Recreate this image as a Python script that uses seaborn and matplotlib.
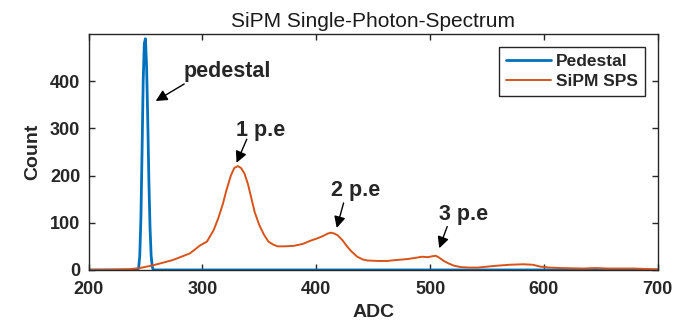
import numpy as np
import pandas as pd
import seaborn as sns
import matplotlib
matplotlib.use("Agg")
import matplotlib.pyplot as plt

# pedestal peak (zero elsewhere)
ped_adc = [200, 243, 244, 245, 246, 247, 248, 249, 250, 251, 252, 253, 254, 255, 256, 257, 700]
ped_count = [0, 0, 4, 30, 110, 250, 400, 480, 490, 430, 320, 190, 90, 30, 6, 0, 0]

# SiPM single photon spectrum
sps_adc = [200, 220, 236, 245, 257, 274, 289, 298, 304, 310, 314, 318, 321, 325, 328, 331,
           334, 337, 340, 343, 346, 350, 354, 358, 362, 366, 372, 380, 388, 395, 401, 406,
           410, 413, 416, 419, 423, 427, 431, 436, 441, 445, 455, 462, 470, 480, 488, 493,
           498, 502, 505, 508, 512, 516, 521, 527, 535, 542, 550, 559, 570, 582, 590, 597,
           605, 615, 624, 635, 645, 656, 668, 679, 690, 700]
sps_count = [0, 0.5, 1.5, 4, 10, 21, 35, 52, 60, 85, 110, 140, 168, 200, 216, 220,
             216, 204, 182, 152, 122, 95, 75, 60, 54, 50, 50, 51, 55, 62, 67, 72,
             77, 79, 77, 73, 63, 50, 39, 28, 22, 20, 19, 19, 21, 23, 26, 28,
             27, 29, 30, 26, 19, 14, 9, 6, 5, 5, 7, 9, 11, 12, 11, 7,
             5, 4, 3.5, 3, 4, 3, 3, 3, 2, 1]

# annotations: label, text centre, arrow tail, arrow tip
ann_labels = ["pedestal", "1 p.e", "2 p.e", "3 p.e"]
ann_text = [(322, 421), (351, 296), (435, 168), (529, 117)]
ann_tail = [(284, 394), (339, 277), (424, 142), (515, 92)]
ann_tip = [(259, 358), (330, 227), (418, 89), (508, 46)]

sns.set_style("ticks")
plt.rcParams["font.family"] = ["Liberation Sans", "DejaVu Sans"]

df_ped = pd.DataFrame({"ADC": ped_adc, "Count": ped_count})
df_sps = pd.DataFrame({"ADC": sps_adc, "Count": sps_count})

fig = plt.figure(figsize=(6.81, 3.30), dpi=100)
ax = fig.add_axes([0.130, 0.182, 0.836, 0.715])

sns.lineplot(data=df_ped, x="ADC", y="Count", color="#0072BD", linewidth=2.0,
             label="Pedestal", ax=ax)
sns.lineplot(data=df_sps, x="ADC", y="Count", color="#D95319", linewidth=1.4,
             label="SiPM SPS", ax=ax)

ax.set_xlim(200, 700)
ax.set_ylim(0, 500)
ax.set_xticks([200, 300, 400, 500, 600, 700])
ax.set_yticks([0, 100, 200, 300, 400])
ax.tick_params(direction="in", top=True, right=True, length=4, width=1,
               color="#262626", labelsize=13, labelcolor="#262626")
ax.tick_params(axis="x", pad=8)
ax.tick_params(axis="y", pad=6)
for lbl in ax.get_xticklabels() + ax.get_yticklabels():
    lbl.set_fontweight("bold")
for sp in ax.spines.values():
    sp.set_color("#262626")
    sp.set_linewidth(1.0)

ax.set_xlabel("ADC", fontsize=14, fontweight="bold", color="#262626", labelpad=4)
ax.set_ylabel("Count", fontsize=14, fontweight="bold", color="#262626", labelpad=6)
ax.set_title("SiPM Single-Photon-Spectrum", fontsize=15, color="#1a1a1a", pad=5)

for lab, tp, tl, tip in zip(ann_labels, ann_text, ann_tail, ann_tip):
    ax.text(tp[0], tp[1], lab, ha="center", va="center", fontsize=15.5, fontweight="bold")
    ax.annotate("", xy=tip, xytext=tl,
                arrowprops=dict(arrowstyle="-|>", color="black", lw=1.0,
                                mutation_scale=17, shrinkA=0, shrinkB=0))

leg = ax.legend(loc="upper right", frameon=True, fancybox=False, handlelength=2.6,
                borderaxespad=0.75, prop={"weight": "bold", "size": 12.5},
                handletextpad=0.3, borderpad=0.4, labelspacing=0.3)
leg.get_frame().set_edgecolor("#262626")
leg.get_frame().set_linewidth(1.0)
leg.get_frame().set_alpha(1.0)

fig.savefig("out.png", dpi=100)
